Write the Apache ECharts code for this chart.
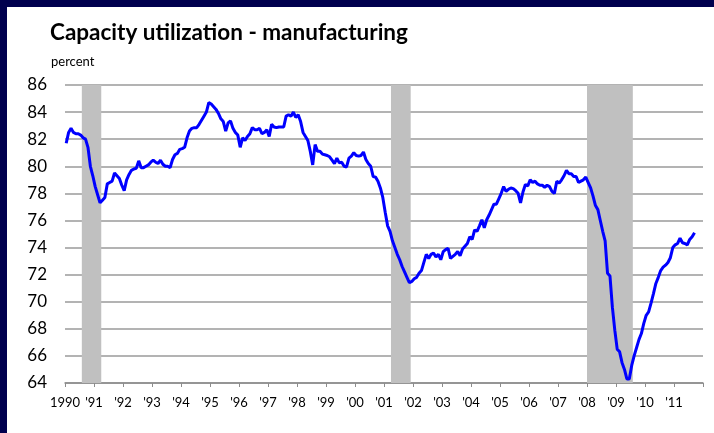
<!DOCTYPE html>
<html>
<head>
<meta charset="utf-8">
<script src="https://cdn.jsdelivr.net/npm/echarts@6/dist/echarts.min.js"></script>
<style>
  html, body { margin: 0; padding: 0; background: #fff; }
  #wrap { position: relative; width: 714px; height: 433px; overflow: hidden; }
  #chart { position: absolute; left: 0; top: 0; width: 714px; height: 433px; }
  .edge { position: absolute; background: #00004e; }
</style>
</head>
<body>
<div id="wrap">
  <div id="chart"></div>
  <div class="edge" style="left:0;top:0;width:714px;height:7px;"></div>
  <div class="edge" style="left:0;top:0;width:7px;height:433px;"></div>
</div>
<script>
// monthly capacity utilization, manufacturing (percent), Jan 1990 ..
var firstYear = 1990;
var cu1990s = [
  81.7, 82.5, 82.8, 82.5, 82.4, 82.4, 82.3, 82.1, 82.0, 81.4, 80.0, 79.3,
  78.5, 77.9, 77.3, 77.5, 77.7, 78.7, 78.8, 78.9, 79.5, 79.3, 79.1, 78.6,
  78.2, 79.0, 79.4, 79.7, 79.8, 79.85, 80.4, 79.9, 79.9, 80.0, 80.1, 80.3,
  80.45, 80.3, 80.2, 80.45, 80.15, 80.0, 80.0, 79.9, 80.5, 80.85, 80.95, 81.25,
  81.3, 81.4, 82.1, 82.6, 82.8, 82.85, 82.85, 83.1, 83.4, 83.7, 84.0, 84.7,
  84.6, 84.4, 84.2, 83.9, 83.5, 83.3, 82.6, 83.2, 83.35, 82.8, 82.5, 82.3,
  81.4, 82.1, 81.9, 82.2, 82.4, 82.85, 82.7, 82.7, 82.8, 82.4, 82.5, 82.7,
  82.2, 83.1, 82.9, 82.85, 82.9, 82.9, 82.9, 83.7, 83.8, 83.7, 84.0, 83.6,
  83.8, 83.3, 82.5, 82.2, 81.9, 81.1, 80.1, 81.6, 81.1, 81.1, 80.9, 80.85,
  80.8, 80.7, 80.45, 80.2, 80.6, 80.25, 80.3, 80.0, 79.95, 80.6, 80.75, 81.0
];
var cu2000s = [
  80.8, 80.75, 80.8, 81.05, 80.5, 80.2, 80.0, 79.25, 79.2, 78.9, 78.4, 77.7,
  76.6, 75.6, 75.2, 74.5, 74.0, 73.5, 73.1, 72.6, 72.2, 71.8, 71.4, 71.5,
  71.7, 71.8, 72.1, 72.3, 72.9, 73.5, 73.2, 73.5, 73.6, 73.3, 73.5, 73.1,
  73.7, 73.85, 73.95, 73.2, 73.35, 73.5, 73.7, 73.4, 73.9, 74.1, 74.3, 74.8,
  74.6, 75.3, 75.2, 75.6, 76.05, 75.45, 76.05, 76.4, 76.8, 77.2, 77.2, 77.6,
  78.0, 78.5, 78.15, 78.3, 78.4, 78.35, 78.2, 78.0, 77.3, 78.1, 78.65, 78.55,
  79.0, 78.8, 78.9, 78.7, 78.6, 78.6, 78.45, 78.6, 78.5, 78.15, 78.0, 78.9,
  78.75, 79.0, 79.3, 79.7, 79.45, 79.45, 79.25, 79.25, 78.8, 78.9, 79.0, 79.2,
  78.8, 78.4, 77.8, 77.1, 76.8, 76.0, 75.2, 74.5, 72.1, 71.9, 69.6, 67.9,
  66.5, 66.3, 65.5, 65.0, 64.3, 64.3, 65.3, 66.0, 66.6, 67.2, 67.65, 68.4,
  69.0, 69.25, 69.9, 70.6, 71.35, 71.8, 72.3, 72.55, 72.7, 72.9, 73.25, 74.0,
  74.2, 74.3, 74.7, 74.35, 74.3, 74.2, 74.6, 74.8, 75.1
];
// recession shading (fractional years)
var recessionStart = [1990.58, 2001.24, 2008.0];
var recessionEnd = [1991.25, 2001.92, 2009.58];
var yTicks = [64, 86, 2];

var allValues = cu1990s.concat(cu2000s);
var lineData = allValues.map(function (v, i) {
  return [firstYear + (i + 0.5) / 12, v];
});
var bands = recessionStart.map(function (s, i) {
  return [{ xAxis: s }, { xAxis: recessionEnd[i] }];
});

var chart = echarts.init(document.getElementById('chart'), null, { renderer: 'canvas' });
var font = 'Lato, "Open Sans", sans-serif';
chart.setOption({
  animation: false,
  backgroundColor: '#fff',
  title: [
    { text: 'Capacity utilization - manufacturing', left: 50, top: 21, padding: 0,
      textStyle: { fontFamily: font, fontWeight: 'bold', fontSize: 22.5, color: '#000' } },
    { text: 'percent', left: 51, top: 55, padding: 0,
      textStyle: { fontFamily: font, fontWeight: 'normal', fontSize: 13, color: '#000' } }
  ],
  grid: { left: 65, right: 11, top: 85, bottom: 50 },
  xAxis: {
    type: 'value', min: 1990, max: 2012, interval: 1,
    axisLine: { lineStyle: { color: '#8c8c8c', width: 1.5 } },
    axisTick: { show: true, inside: false, length: 4, lineStyle: { color: '#8c8c8c', width: 1 } },
    axisLabel: {
      fontFamily: font, fontSize: 13, color: '#000', margin: 13,
      formatter: function (v) {
        if (v === 2012) return '';
        if (v === 1990) return '1990';
        return "'" + String(v).slice(2);
      }
    },
    splitLine: { show: false }
  },
  yAxis: {
    type: 'value', min: yTicks[0], max: yTicks[1], interval: yTicks[2],
    axisLine: { show: false },
    axisTick: { show: false },
    axisLabel: { fontFamily: font, fontSize: 17, color: '#000', margin: 18 },
    splitLine: { lineStyle: { color: '#9a9a9a', width: 1.5 } }
  },
  series: [{
    type: 'line',
    data: lineData,
    showSymbol: false,
    lineStyle: { color: '#0000ff', width: 3 },
    markArea: {
      silent: true,
      itemStyle: { color: '#c0c0c0', opacity: 1 },
      data: bands
    }
  }]
});
</script>
</body>
</html>
